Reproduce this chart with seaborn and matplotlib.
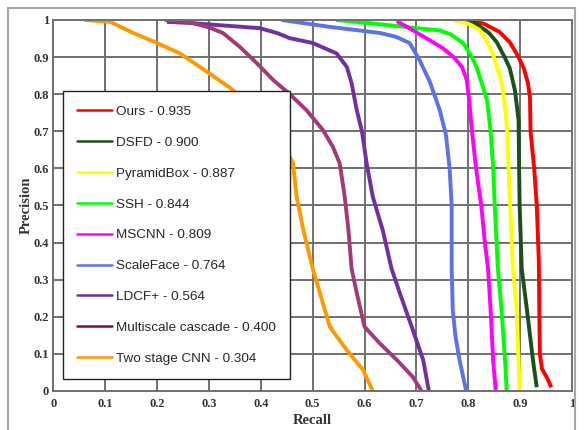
import matplotlib
matplotlib.use("Agg")
import matplotlib.pyplot as plt
from matplotlib.lines import Line2D
from matplotlib.patches import Rectangle
import seaborn as sns
import pandas as pd

# Precision-recall curves
methods = ["Ours", "DSFD", "PyramidBox", "SSH", "MSCNN", "ScaleFace",
           "LDCF+", "Multiscale cascade", "Two stage CNN"]
scores = ["0.935", "0.900", "0.887", "0.844", "0.809", "0.764", "0.564", "0.400", "0.304"]

ours_r = [0.80, 0.83, 0.86, 0.88, 0.895, 0.907, 0.915, 0.919, 0.92, 0.927, 0.932, 0.936, 0.937, 0.938, 0.942, 0.952, 0.96]
ours_p = [1.0, 0.99, 0.968, 0.94, 0.905, 0.87, 0.83, 0.79, 0.70, 0.60, 0.50, 0.35, 0.20, 0.10, 0.06, 0.035, 0.01]

dsfd_r = [0.775, 0.81, 0.84, 0.855, 0.87, 0.88, 0.89, 0.897, 0.898, 0.899, 0.903, 0.913, 0.925, 0.932]
dsfd_p = [1.0, 0.995, 0.965, 0.94, 0.90, 0.87, 0.81, 0.73, 0.60, 0.50, 0.33, 0.22, 0.08, 0.01]

pyr_r = [0.77, 0.80, 0.822, 0.835, 0.847, 0.858, 0.866, 0.872, 0.875, 0.879, 0.886, 0.893, 0.897, 0.899]
pyr_p = [1.0, 0.99, 0.973, 0.945, 0.91, 0.86, 0.82, 0.75, 0.70, 0.55, 0.33, 0.22, 0.08, 0.0]

ssh_r = [0.545, 0.62, 0.70, 0.745, 0.765, 0.79, 0.805, 0.816, 0.828, 0.836, 0.843, 0.848, 0.851, 0.857, 0.864, 0.871, 0.874]
ssh_p = [1.0, 0.99, 0.978, 0.972, 0.962, 0.938, 0.905, 0.873, 0.82, 0.784, 0.70, 0.60, 0.50, 0.33, 0.22, 0.08, 0.0]

mscnn_r = [0.662, 0.69, 0.72, 0.75, 0.772, 0.788, 0.797, 0.802, 0.807, 0.815, 0.825, 0.832, 0.838, 0.843, 0.848, 0.853]
mscnn_p = [0.997, 0.975, 0.95, 0.925, 0.90, 0.873, 0.838, 0.78, 0.70, 0.60, 0.50, 0.40, 0.33, 0.22, 0.08, 0.0]

scale_r = [0.44, 0.53, 0.63, 0.66, 0.687, 0.706, 0.726, 0.745, 0.757, 0.764, 0.768, 0.768, 0.770, 0.775, 0.783, 0.796]
scale_p = [1.0, 0.982, 0.965, 0.955, 0.938, 0.892, 0.833, 0.757, 0.69, 0.60, 0.50, 0.33, 0.22, 0.15, 0.084, 0.0]

ldcf_r = [0.219, 0.263, 0.33, 0.398, 0.431, 0.456, 0.50, 0.546, 0.566, 0.575, 0.585, 0.595, 0.604,
          0.616, 0.635, 0.652, 0.668, 0.691, 0.713, 0.724]
ldcf_p = [0.995, 0.992, 0.985, 0.978, 0.965, 0.951, 0.938, 0.91, 0.873, 0.83, 0.757, 0.70, 0.614,
          0.523, 0.434, 0.33, 0.264, 0.173, 0.084, 0.0]

msc_r = [0.215, 0.26, 0.30, 0.327, 0.36, 0.392, 0.424, 0.456, 0.488, 0.52, 0.539, 0.552, 0.559,
         0.562, 0.569, 0.575, 0.585, 0.60, 0.629, 0.662, 0.693, 0.71]
msc_p = [1.0, 0.995, 0.98, 0.965, 0.927, 0.884, 0.838, 0.80, 0.757, 0.703, 0.658, 0.614, 0.55,
         0.52, 0.434, 0.33, 0.264, 0.173, 0.129, 0.084, 0.038, 0.0]

two_r = [0.06, 0.11, 0.154, 0.2, 0.244, 0.283, 0.341, 0.40, 0.44, 0.462, 0.469, 0.482, 0.50,
         0.514, 0.533, 0.566, 0.597, 0.616]
two_p = [1.0, 0.995, 0.965, 0.938, 0.91, 0.873, 0.817, 0.745, 0.675, 0.614, 0.523, 0.434, 0.33,
         0.264, 0.173, 0.11, 0.057, 0.0]

recalls = [ours_r, dsfd_r, pyr_r, ssh_r, mscnn_r, scale_r, ldcf_r, msc_r, two_r]
precisions = [ours_p, dsfd_p, pyr_p, ssh_p, mscnn_p, scale_p, ldcf_p, msc_p, two_p]

curve_colors = ["#ff0000", "#1c4f1c", "#ffff00", "#00ff00", "#ff00ff", "#5c72e6",
                "#7030a0", "#a33a75", "#ff9900"]
legend_colors = ["#ff0000", "#1c4f1c", "#ffff00", "#00ff00", "#ff00ff", "#5c72e6",
                 "#7030a0", "#7a0a40", "#ff9900"]

rows = []
for m, rr, pp in zip(methods, recalls, precisions):
    for r, p in zip(rr, pp):
        rows.append({"Method": m, "Recall": r, "Precision": p})
df = pd.DataFrame(rows)

sns.set_style("white")
fig = plt.figure(figsize=(5.84, 4.30), dpi=100)
ax = fig.add_axes([0.0913, 0.0907, 0.8882, 0.8628])

sns.lineplot(data=df, x="Recall", y="Precision", hue="Method", hue_order=methods,
             palette=dict(zip(methods, curve_colors)), sort=False, estimator=None,
             units="Method", linewidth=2.8, legend=False, ax=ax,
             solid_capstyle="butt", solid_joinstyle="round")

ax.set_xlim(0, 1)
ax.set_ylim(0, 1)
ticks = [0, 0.1, 0.2, 0.3, 0.4, 0.5, 0.6, 0.7, 0.8, 0.9, 1]
labels = ["0", "0.1", "0.2", "0.3", "0.4", "0.5", "0.6", "0.7", "0.8", "0.9", "1"]
ax.set_xticks(ticks)
ax.set_xticklabels(labels)
ax.set_yticks(ticks)
ax.set_yticklabels(labels)
ax.grid(True, color="#707070", linewidth=1.4)
ax.set_axisbelow(True)
for s in ax.spines.values():
    s.set_color("#707070")
    s.set_linewidth(1.4)
ax.tick_params(axis="x", length=0, pad=5)
ax.tick_params(axis="y", length=0, pad=3)
for t in ax.get_xticklabels() + ax.get_yticklabels():
    t.set_fontfamily("Liberation Serif")
    t.set_fontweight("bold")
    t.set_fontsize(9)
    t.set_color("#333333")
ax.set_xlabel("Recall", fontfamily="Liberation Serif", fontweight="bold", fontsize=10.5,
              color="#333333", labelpad=3)
ax.set_ylabel("Precision", fontfamily="Liberation Serif", fontweight="bold", fontsize=10.5,
              color="#333333", labelpad=1)

handles = [Line2D([0], [0], color=c, linewidth=1.8) for c in legend_colors]
leg_labels = [f"{m} - {s}" for m, s in zip(methods, scores)]
leg = ax.legend(handles, leg_labels, loc="lower left", bbox_to_anchor=(0.019, 0.032),
                frameon=True, fancybox=False, framealpha=1, edgecolor="#222222",
                prop={"family": "Liberation Sans", "size": 9.7}, handlelength=2.6,
                handletextpad=0.3, labelspacing=1.37, borderpad=1.05, borderaxespad=0)
leg.get_frame().set_linewidth(1.0)

fig.patches.append(Rectangle((8 / 584, -0.05), 567 / 584, 1.05 - 8 / 430, transform=fig.transFigure,
                             fill=False, edgecolor="#a8a8a8", linewidth=1.5))

fig.savefig("out.png", dpi=100)
